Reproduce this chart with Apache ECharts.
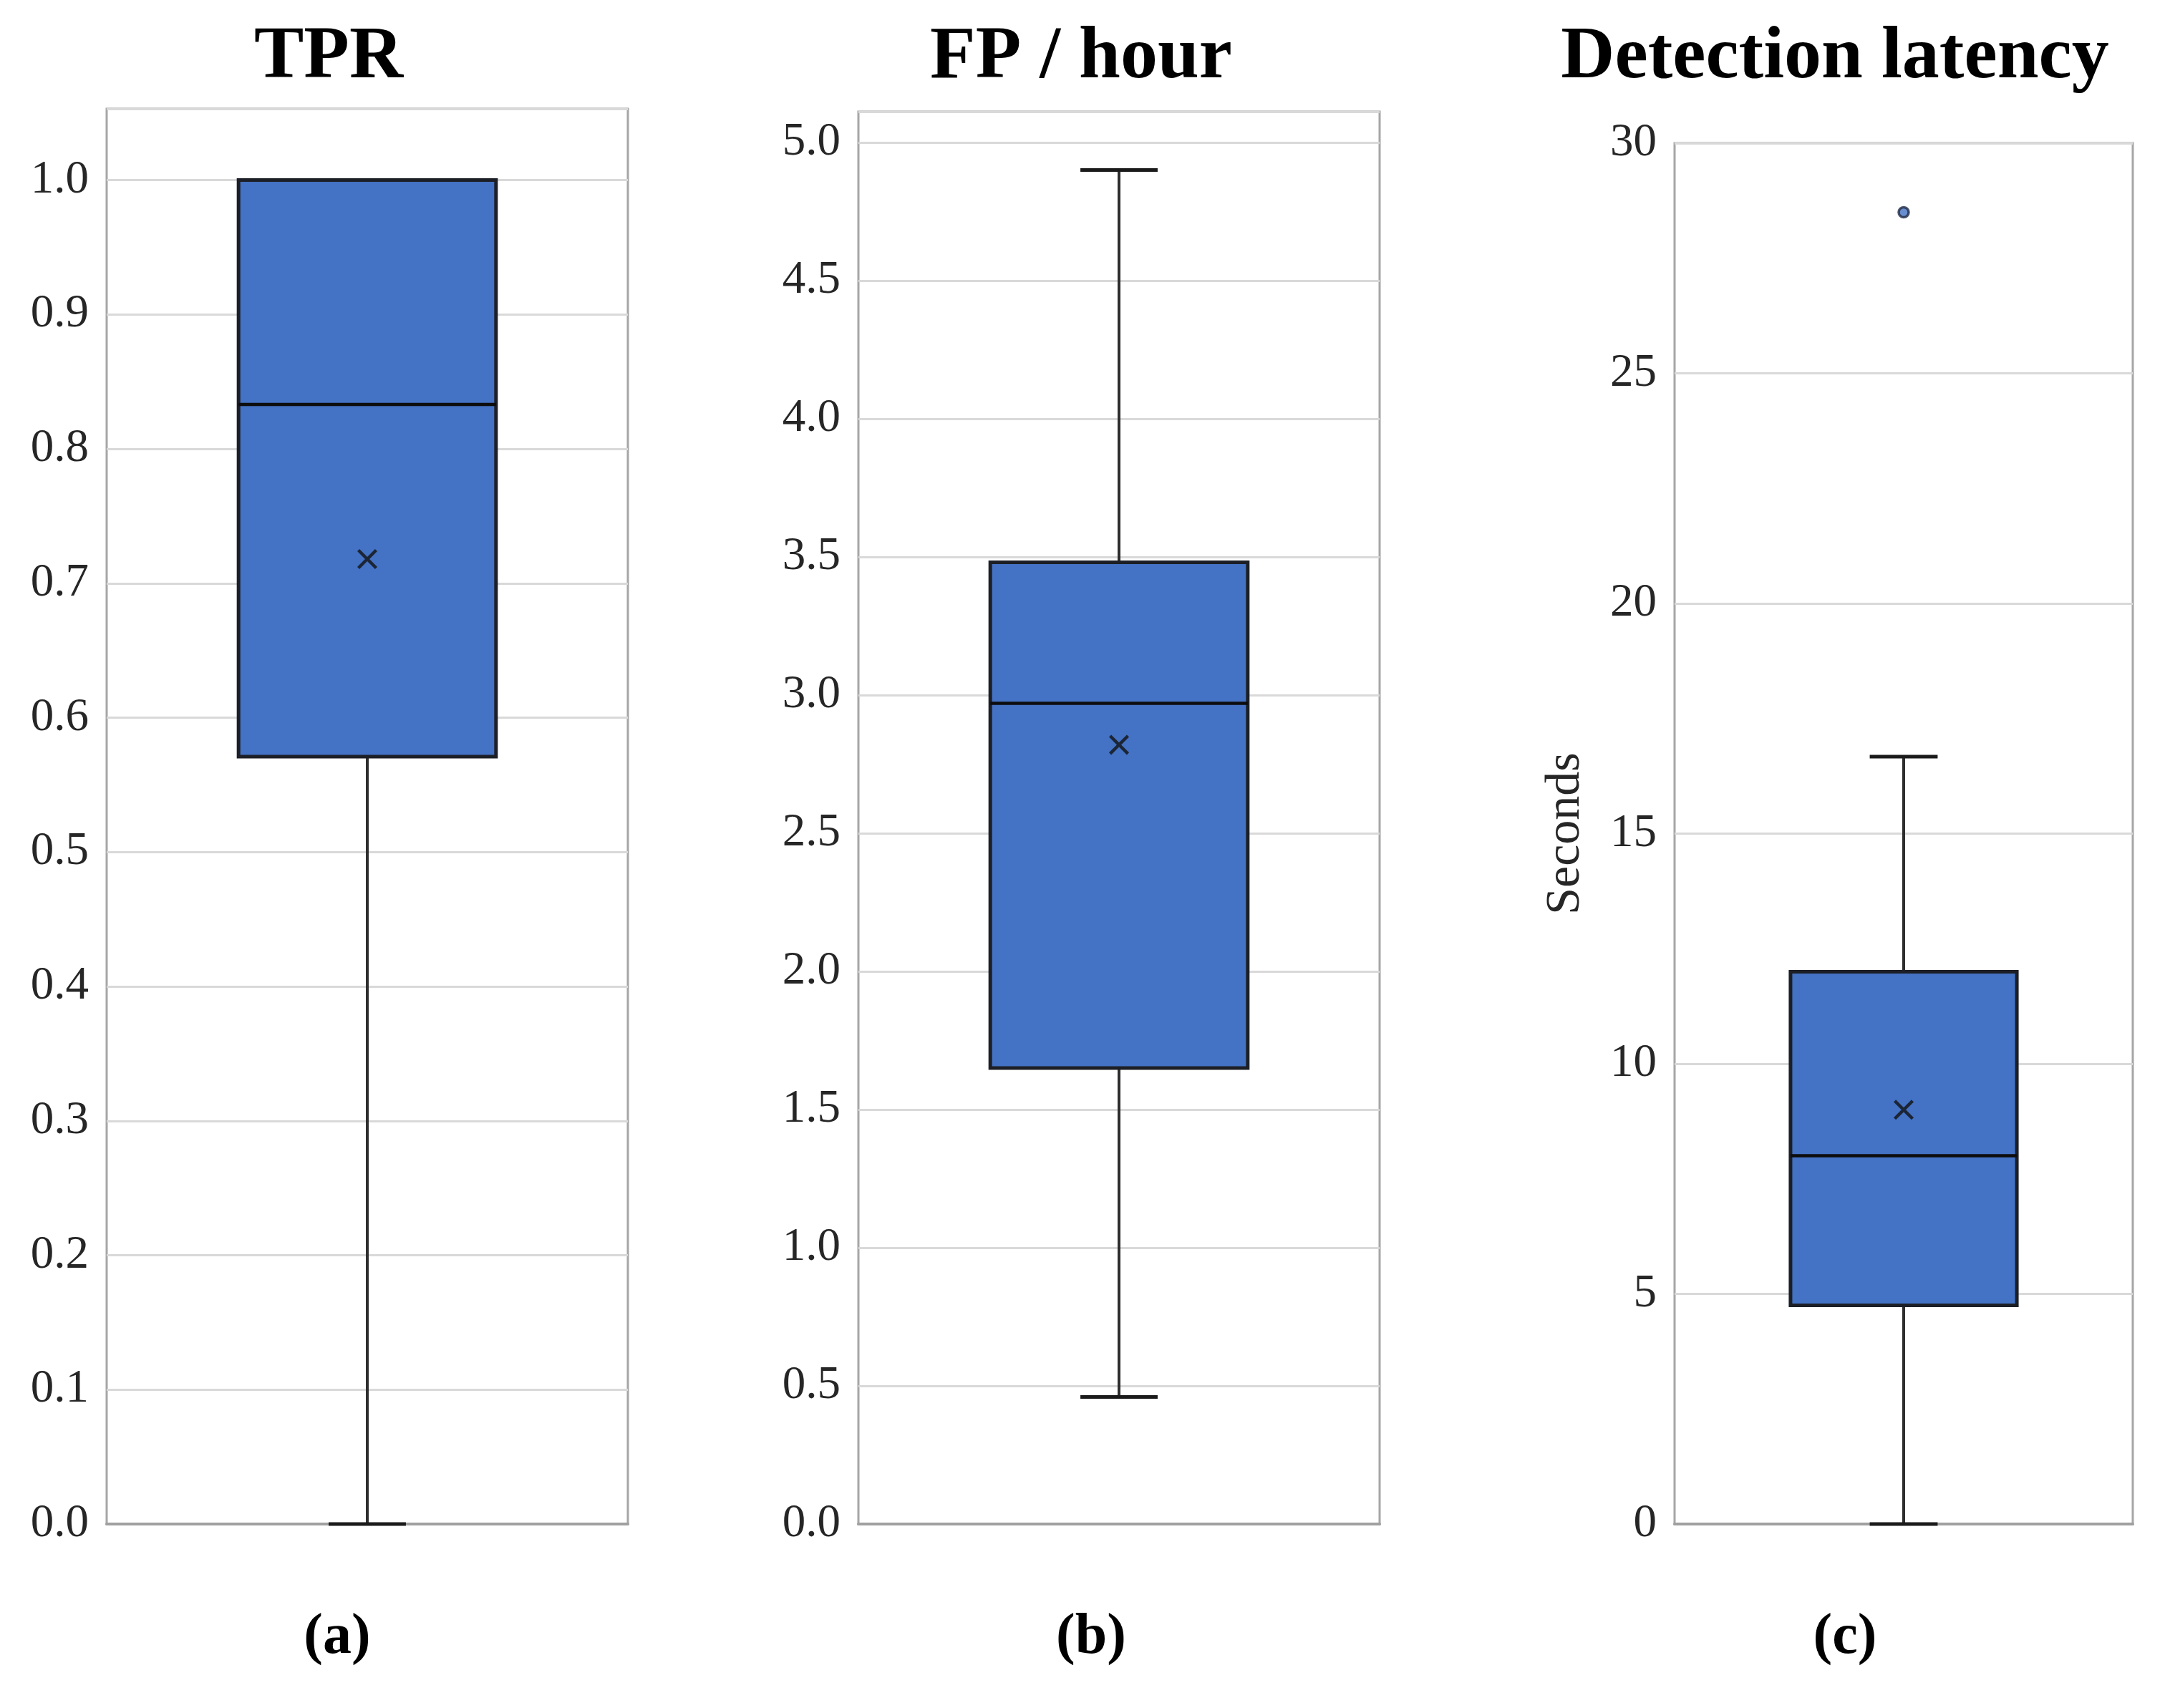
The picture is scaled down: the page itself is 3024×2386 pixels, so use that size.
<!DOCTYPE html>
<html>
<head>
<meta charset="utf-8">
<script src="https://cdn.jsdelivr.net/npm/echarts@6/dist/echarts.min.js"></script>
<style>
html,body{margin:0;padding:0;background:#ffffff;}
#chart{width:3024px;height:2386px;}
</style>
</head>
<body>
<div id="chart"></div>
<script>
// ---- data ----
const panelTitles = ['TPR', 'FP / hour', 'Detection latency'];
const panelLetters = ['(a)', '(b)', '(c)'];
const categories = [''];
// [lower whisker, Q1, median, Q3, upper whisker]
const tprBox = [0.0, 0.571, 0.833, 1.0, 1.0];
const fpBox = [0.46, 1.65, 2.97, 3.48, 4.9];
const latencyBox = [0.0, 4.75, 8.0, 12.0, 16.67];
const tprMean = [0.718];
const fpMean = [2.82];
const latencyMean = [9.0];
const latencyOutliers = [28.5];
const latencyAxisName = 'Seconds';

// ---- styling ----
const FONT = 'Liberation Serif';
const BLUE = '#4472C4';
const boxes = [tprBox, fpBox, latencyBox];
const means = [tprMean, fpMean, latencyMean];

const grids = [
  {left: 149, top: 152, width: 728, height: 1977},
  {left: 1199, top: 156, width: 728, height: 1973},
  {left: 2339, top: 200, width: 640, height: 1929}
];
const yAxesCfg = [
  {min: 0, max: 1.053, interval: 0.1, dec: 1},
  {min: 0, max: 5.111, interval: 0.5, dec: 1},
  {min: 0, max: 30, interval: 5, dec: 0}
];

function renderBox(params, api) {
  const xv = api.value(0);
  const lo = api.coord([xv, api.value(1)]);
  const q1 = api.coord([xv, api.value(2)]);
  const md = api.coord([xv, api.value(3)]);
  const q3 = api.coord([xv, api.value(4)]);
  const hi = api.coord([xv, api.value(5)]);
  const band = api.size([1, 0])[0];
  const bw = band * 0.494;
  const cw = bw * 0.3;
  const cx = q1[0];
  const wStyle = {stroke: '#2e2e2e', lineWidth: 4, fill: null};
  return {
    type: 'group',
    children: [
      {type: 'line', shape: {x1: cx, y1: q3[1], x2: cx, y2: hi[1]}, style: wStyle},
      {type: 'line', shape: {x1: cx, y1: q1[1], x2: cx, y2: lo[1]}, style: wStyle},
      {type: 'line', shape: {x1: cx - cw / 2, y1: hi[1], x2: cx + cw / 2, y2: hi[1]}, style: {stroke: '#1a1a1a', lineWidth: 5}},
      {type: 'line', shape: {x1: cx - cw / 2, y1: lo[1], x2: cx + cw / 2, y2: lo[1]}, style: {stroke: '#1a1a1a', lineWidth: 5}},
      {type: 'rect', shape: {x: cx - bw / 2, y: q3[1], width: bw, height: q1[1] - q3[1]},
        style: {fill: BLUE, stroke: '#1c1f26', lineWidth: 5}},
      {type: 'line', shape: {x1: cx - bw / 2, y1: md[1], x2: cx + bw / 2, y2: md[1]}, style: {stroke: '#0d0d0d', lineWidth: 4.5}}
    ]
  };
}

const X_PATH = 'path://M0,1.1L1.1,0L5,3.9L8.9,0L10,1.1L6.1,5L10,8.9L8.9,10L5,6.1L1.1,10L0,8.9L3.9,5Z';

const option = {
  backgroundColor: '#ffffff',
  animation: false,
  grid: grids.map(g => Object.assign({show: true, borderColor: '#a6a6a6', borderWidth: 3, backgroundColor: 'transparent'}, g)),
  xAxis: grids.map((g, i) => ({
    type: 'category', gridIndex: i, data: categories,
    axisLine: {show: true, lineStyle: {color: '#a0a0a0', width: 4}},
    axisTick: {show: false}, axisLabel: {show: false}, splitLine: {show: false}
  })),
  yAxis: yAxesCfg.map((c, i) => ({
    type: 'value', gridIndex: i, min: c.min, max: c.max, interval: c.interval,
    name: i === 2 ? latencyAxisName : '',
    nameLocation: 'middle', nameGap: 118, nameRotate: 90,
    nameTextStyle: {fontFamily: FONT, fontSize: 68, color: '#262626'},
    axisLine: {show: false}, axisTick: {show: false},
    axisLabel: {
      fontFamily: FONT, fontSize: 65, color: '#262626', margin: 25,
      showMaxLabel: i === 2, showMinLabel: true,
      formatter: v => Number(v).toFixed(c.dec)
    },
    splitLine: {show: true, lineStyle: {color: '#d9d9d9', width: 3}}
  })),
  series: [
    ...boxes.map((b, i) => ({
      type: 'custom', xAxisIndex: i, yAxisIndex: i, z: 2,
      renderItem: renderBox,
      encode: {x: 0, y: [1, 2, 3, 4, 5]},
      data: [[0].concat(b)]
    })),
    ...means.map((m, i) => ({
      type: 'scatter', xAxisIndex: i, yAxisIndex: i, z: 5,
      symbol: X_PATH, symbolSize: 28,
      itemStyle: {color: '#111111'},
      data: m.map(v => [0, v])
    })),
    {
      type: 'scatter', xAxisIndex: 2, yAxisIndex: 2, z: 5,
      symbol: 'circle', symbolSize: 14,
      itemStyle: {color: BLUE, borderColor: '#1f2a44', borderWidth: 3.5},
      data: latencyOutliers.map(v => [0, v])
    }
  ],
  graphic: [
    ...panelTitles.map((t, i) => ({
      type: 'text', x: [459, 1510, 2563][i], y: 81, z: 10,
      style: {text: t, fontFamily: FONT, fontSize: 104, fontWeight: 'bold', fill: '#000000',
        align: 'center', verticalAlign: 'middle', textAlign: 'center', textVerticalAlign: 'middle'}
    })),
    ...panelLetters.map((t, i) => ({
      type: 'text', x: [471, 1524, 2577][i], y: 2288, z: 10,
      style: {text: t, fontFamily: FONT, fontSize: 80, fontWeight: 'bold', fill: '#000000',
        align: 'center', verticalAlign: 'middle', textAlign: 'center', textVerticalAlign: 'middle'}
    }))
  ]
};

const chart = echarts.init(document.getElementById('chart'), null, {renderer: 'canvas'});
chart.setOption(option);
</script>
</body>
</html>
